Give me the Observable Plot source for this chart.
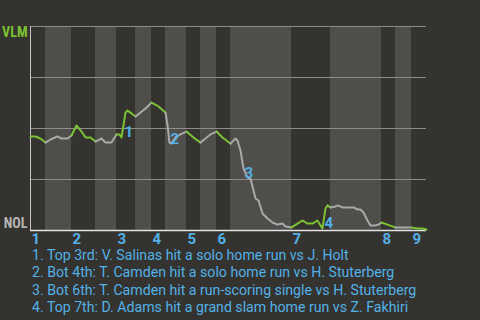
<!DOCTYPE html>
<html><head><meta charset="utf-8">
<script src="https://cdn.jsdelivr.net/npm/d3@7"></script>
<script src="https://cdn.jsdelivr.net/npm/@observablehq/plot@0.6"></script>
<style>
html,body{margin:0;padding:0;background:#35332f;}
#chart svg{display:block;background:#35332f;}
#legend{margin:2px 0 0 0;padding:0 0 0 32px;font-family:Roboto,"Open Sans",sans-serif;font-size:14.15px;color:#52b1e6;white-space:nowrap;}
#legend div{line-height:14px;height:14px;margin-bottom:3.3px;}
</style></head><body>
<div id="chart"></div>
<div id="legend"></div>
<script>
// Game progress (% of game) and VLM win probability (%)
const progress = [
  0, 1.26, 2.53, 3.79,
  5.05, 6.82, 7.83, 9.34, 10.35,
  11.62, 12.88, 13.89, 15.15, 16.41,
  17.93, 18.94, 20.45, 21.72,
  22.47, 22.98, 23.99, 24.49, 25.25, 26.52,
  27.78, 29.04, 30.56,
  32.32, 34.09,
  34.60, 35.10, 35.61, 36.62, 37.88, 39.39,
  41.16, 42.93,
  44.19, 45.45, 46.97,
  48.48, 49.49, 50.51,
  51.77, 52.27, 53.03, 53.79, 54.80, 55.56, 56.82, 57.58, 58.59, 59.85, 61.11, 62.37, 63.64, 64.39, 65.91,
  67.42, 68.69, 69.95, 71.21, 72.47, 73.23, 73.74, 74.49, 75.00, 75.76,
  77.02, 77.53, 78.79, 81.57, 82.58, 83.33, 84.09, 85.10, 85.86, 87.12, 87.88, 88.64,
  90.15, 91.41, 92.17,
  94.19, 96.21,
  97.73, 98.99, 100
];
const winProb = [
  46.1, 46.1, 45.1, 43.1,
  44.6, 46.1, 45.1, 45.1, 46.6,
  51.5, 48.5, 45.6, 45.6, 43.6,
  45.1, 43.1, 43.1, 47.1,
  47.1, 45.6, 57.8, 58.8, 57.8, 55.9,
  57.8, 59.8, 62.7,
  60.8, 57.8,
  51.5, 43.1, 42.6, 45.6, 47.1, 48.5,
  45.6, 43.1,
  45.1, 47.1, 48.5,
  45.6, 44.1, 42.6,
  45.1, 44.1, 39.2, 30.4, 26.0, 25.5, 15.7, 14.7, 8.3, 5.9, 3.9, 2.9, 3.4, 2.0, 1.5,
  3.4, 4.9, 3.4, 3.4, 4.9, 2.5, 1.0, 10.8, 12.3, 11.3,
  11.8, 12.3, 11.3, 11.3, 10.3, 10.3, 8.8, 4.9, 2.5, 2.5, 2.9, 3.9,
  2.9, 2.0, 1.5,
  1.5, 1.5,
  1.0, 1.0, 0.5
];
// start of each half-inning (top 1st, bottom 1st, ..., top 9th)
const halfStarts = [0, 3.79, 10.35, 16.41, 21.72, 26.52, 30.56, 34.09, 39.39, 42.93, 46.97, 50.51, 65.91, 75.76, 88.64, 92.17, 96.21];
const gameEnd = 100;
const inningLabels = ["1","2","3","4","5","6","7","8","9"];
const teams = ["VLM", "NOL"];
const eventLabels = ["1","2","3","4"];
const eventProgress = [23.48, 35.10, 53.79, 73.99];
const eventWinProb = [45.6, 42.6, 25.5, 1.0];
const eventTexts = [
  "Top 3rd: V. Salinas hit a solo home run vs J. Holt",
  "Bot 4th: T. Camden hit a solo home run vs H. Stuterberg",
  "Bot 6th: T. Camden hit a run-scoring single vs H. Stuterberg",
  "Top 7th: D. Adams hit a grand slam home run vs Z. Fakhiri"
];
const gridValues = [25, 50, 75, 100];

const GREEN = "#7bc134", GRAYLINE = "#a8a9aa", BLUE = "#52b1e6";

const halves = halfStarts.map((s, i) => ({
  start: s, end: i + 1 < halfStarts.length ? halfStarts[i + 1] : gameEnd,
  top: i % 2 === 0, inning: inningLabels[Math.floor(i / 2)], idx: i
}));
const lineRows = [];
halves.forEach(h => {
  progress.forEach((p, j) => {
    if (p >= h.start - 1e-6 && p <= h.end + 1e-6)
      lineRows.push({x: p, y: winProb[j], half: h.idx, color: h.top ? GREEN : GRAYLINE});
  });
});
const events = eventLabels.map((l, i) => ({label: l, x: eventProgress[i], y: eventWinProb[i]}));
const innings = halves.filter(h => h.top);

const chart = Plot.plot({
  width: 480, height: 246,
  marginTop: 26, marginBottom: 16, marginLeft: 30, marginRight: 54,
  style: {background: "#35332f", overflow: "visible"},
  x: {domain: [0, 100], axis: null},
  y: {domain: [0, 100], axis: null},
  marks: [
    Plot.rect(halves.filter(h => !h.top), {x1: "start", x2: "end", fill: "#4f4e4b"}),
    Plot.ruleY(gridValues, {stroke: "#8d8c89", strokeWidth: 1}),
    Plot.ruleY([0], {stroke: "#e2e2e2", strokeWidth: 1.5}),
    Plot.ruleX([0], {stroke: "#c4c4c4", strokeWidth: 1}),
    Plot.line(lineRows, {x: "x", y: "y", z: "half", stroke: "color", strokeWidth: 2, strokeLinejoin: "round", strokeLinecap: "round"}),
    Plot.text(events, {x: "x", y: "y", text: "label", textAnchor: "start", lineAnchor: "bottom", dx: 1, fill: BLUE, fontSize: 15, fontWeight: "bold", fontFamily: "Roboto, sans-serif"}),
    Plot.text(innings, {x: "start", text: "inning", frameAnchor: "bottom", textAnchor: "start", lineAnchor: "top", dx: 1, dy: 3, fill: BLUE, fontSize: 15, fontWeight: "bold", fontFamily: "Roboto, sans-serif"}),
    Plot.text([teams[0]], {frameAnchor: "top-left", textAnchor: "end", lineAnchor: "top", dx: -3, dy: 1, fill: GREEN, fontSize: 14, fontWeight: "bold", fontFamily: "'Liberation Sans Narrow', 'Roboto Condensed', Roboto, sans-serif"}),
    Plot.text([teams[1]], {frameAnchor: "bottom-left", textAnchor: "end", lineAnchor: "bottom", dx: -3, dy: -3, fill: "#b4b4b4", fontSize: 14, fontWeight: "bold", fontFamily: "'Liberation Sans Narrow', 'Roboto Condensed', Roboto, sans-serif"})
  ]
});
document.getElementById("chart").append(chart);
const legend = document.getElementById("legend");
eventTexts.forEach((t, i) => {
  const d = document.createElement("div");
  d.textContent = `${eventLabels[i]}. ${t}`;
  legend.append(d);
});
</script>
</body></html>
